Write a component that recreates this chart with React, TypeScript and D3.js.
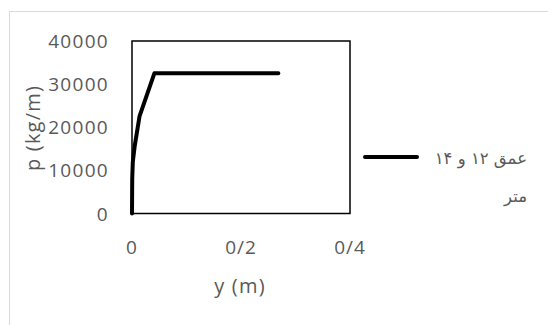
import React from "react";
import * as d3 from "d3";

// p–y curve for the 12 m and 14 m depths
const yValues = [0, 0.0004, 0.0015, 0.0048, 0.0139, 0.041, 0.2686];
const pValues = [0, 8000, 12000, 15500, 22600, 32500, 32500];

const xTicks = [0, 0.2, 0.4];
const yTicks = [0, 10000, 20000, 30000, 40000];

const seriesLabel = ["عمق ۱۲ و ۱۴", "متر"];
const xTitle = "y (m)";
const yTitle = "p (kg/m)";

const W = 548;
const H = 325;
const plot = { left: 132, right: 350, top: 41, bottom: 213.5 };
const grey = "#595959";
const font = "'Open Sans', 'DejaVu Sans', sans-serif";

export default function App() {
  const x = d3.scaleLinear().domain([0, 0.4]).range([plot.left, plot.right]);
  const y = d3.scaleLinear().domain([0, 40000]).range([plot.bottom, plot.top]);

  const line = d3
    .line<number>()
    .x((_, i) => x(yValues[i]))
    .y((d) => y(d));

  const fmtX = (v: number) => (v === 0 ? "0" : d3.format(".1f")(v).replace(".", "/"));

  return (
    <svg
      width={W}
      height={H}
      style={{ position: "absolute", left: 0, top: 0, background: "#fff" }}
      fontFamily={font}
    >
      <rect x={9.5} y={11.5} width={W + 10} height={H + 10} fill="#fff" stroke="#d9d9d9" strokeWidth={1} />

      <rect
        x={plot.left}
        y={plot.top}
        width={plot.right - plot.left}
        height={plot.bottom - plot.top}
        fill="none"
        stroke="#000"
        strokeWidth={1.5}
      />

      {yTicks.map((t) => (
        <text
          key={t}
          x={109}
          y={y(t)}
          textAnchor="end"
          dominantBaseline="central"
          fontSize={19}
          letterSpacing={1.3}
          fill={grey}
        >
          {d3.format("d")(t)}
        </text>
      ))}

      {xTicks.map((t) => (
        <text
          key={t}
          x={x(t)}
          y={247}
          textAnchor="middle"
          dominantBaseline="central"
          fontSize={19}
          letterSpacing={1}
          fill={grey}
        >
          {fmtX(t)}
        </text>
      ))}

      <path
        d={line(pValues) ?? ""}
        fill="none"
        stroke="#000"
        strokeWidth={4}
        strokeLinejoin="round"
        strokeLinecap="round"
      />

      <text
        x={240}
        y={285}
        textAnchor="middle"
        dominantBaseline="central"
        fontSize={20}
        letterSpacing={1.2}
        fill={grey}
      >
        {xTitle}
      </text>
      <text
        transform="translate(32,128) rotate(-90)"
        textAnchor="middle"
        dominantBaseline="central"
        fontSize={20}
        letterSpacing={1.2}
        fill={grey}
      >
        {yTitle}
      </text>

      <line x1={365} x2={417} y1={157} y2={157} stroke="#000" strokeWidth={4} strokeLinecap="round" />
      <text
        x={527}
        y={158}
        direction="rtl"
        textAnchor="start"
        dominantBaseline="central"
        fontSize={16.5}
        fill={grey}
        fontFamily="'DejaVu Sans', sans-serif"
      >
        {seriesLabel[0]}
      </text>
      <text
        x={527}
        y={196}
        direction="rtl"
        textAnchor="start"
        dominantBaseline="central"
        fontSize={16.5}
        fill={grey}
        fontFamily="'DejaVu Sans', sans-serif"
      >
        {seriesLabel[1]}
      </text>
    </svg>
  );
}
